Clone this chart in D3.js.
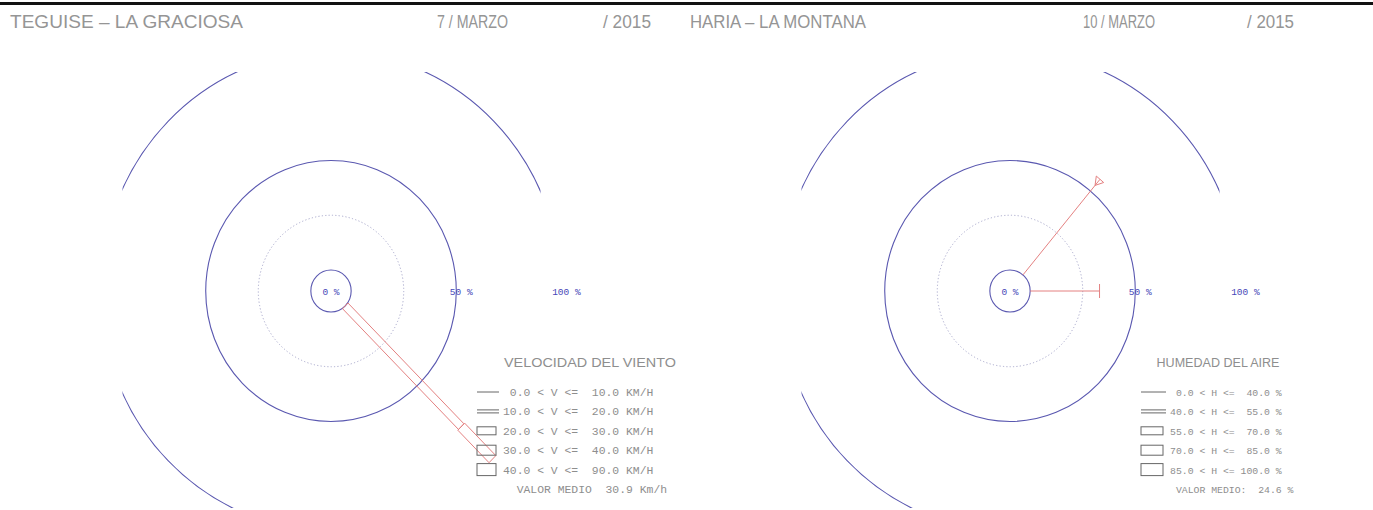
<!DOCTYPE html>
<html>
<head>
<meta charset="utf-8">
<script src="https://cdn.jsdelivr.net/npm/d3@7"></script>
<style>
  body { margin: 0; background: #fff; }
  svg { display: block; }
  text { fill: #8e8e8e; }
</style>
</head>
<body>
<div id="chart"></div>
<script>
// headers
const stations = ["TEGUISE \u2013 LA GRACIOSA", "HARIA \u2013 LA MONTANA"];
const dates = ["7 / MARZO", "10 / MARZO"];
const years = ["/ 2015", "/ 2015"];

// rings of the rose (%)
const ringPcts = [0, 25, 50, 100];
const ringLabelPcts = [0, 50, 100];

// wind speed rose
const windTitle = "VELOCIDAD DEL VIENTO";
const windLow = ["0.0", "10.0", "20.0", "30.0", "40.0"];
const windHigh = ["10.0", "20.0", "30.0", "40.0", "90.0"];
const windDirs = [135];
const windFreq = [[0, 0, 78, 21, 0]];
const windMean = "30.9";

// humidity rose
const humTitle = "HUMEDAD DEL AIRE";
const humLow = ["0.0", "40.0", "55.0", "70.0", "85.0"];
const humHigh = ["40.0", "55.0", "70.0", "85.0", "100.0"];
const humDirs = [40, 90];
const humFreq = [[57, 0, 0, 0, 0], [33, 0, 0, 0, 0]];
const humMean = "24.6";

const W = 1373, H = 510;
const blue = "#5a58b0", red = "#e27474";
const sx = 0.96;                      // drawing is a bit squeezed horizontally
const r = d3.scaleLinear().domain([0, 100]).range([21, 240]);
const classWidth = [0, 3, 8, 10, 12];
const iconHeight = [0, 3, 8, 10, 12];

const panels = [
  { cx: 331, cy: 291, head: [10, 437, 603], headW: [233, 71, 48],
    title: windTitle, low: windLow, high: windHigh, sym: "V", unit: "KM/H",
    meanLabel: "  VALOR MEDIO", mean: windMean, meanUnit: "Km/h",
    dirs: windDirs, freq: windFreq,
    legIconX: 477, legIconW: 19, legTextX: 503, legTitleX: 590, legTitleW: 172,
    legTitleY: 367, legY0: 396, legDy: 19.4, rowFont: 11.4 },
  { cx: 1010, cy: 291, head: [690, 1083, 1247], headW: [176, 72, 47],
    title: humTitle, low: humLow, high: humHigh, sym: "H", unit: "%",
    meanLabel: " VALOR MEDIO:", mean: humMean, meanUnit: "%",
    dirs: humDirs, freq: humFreq,
    legIconX: 1141, legIconW: 22, legTextX: 1170, legTitleX: 1218, legTitleW: 123,
    legTitleY: 367, legY0: 396, legDy: 19.4, rowFont: 9.8 }
];

const svg = d3.select("#chart").append("svg")
  .attr("width", W).attr("height", H);

// top frame line
svg.append("line")
  .attr("x1", 0).attr("x2", W).attr("y1", 3.5).attr("y2", 3.5)
  .attr("stroke", "#111").attr("stroke-width", 3);

const defs = svg.append("defs");

function pt(rad, deg, off) {
  const t = deg * Math.PI / 180;
  return [rad * Math.sin(t) + off * Math.cos(t), -rad * Math.cos(t) + off * Math.sin(t)];
}

panels.forEach((p, pi) => {
  // header texts
  [stations[pi], dates[pi], years[pi]].forEach((s, i) => {
    svg.append("text")
      .attr("x", p.head[i]).attr("y", 28)
      .attr("textLength", p.headW[i]).attr("lengthAdjust", "spacingAndGlyphs")
      .style("font-family", "'Liberation Sans', Arial, sans-serif")
      .style("font-size", "18px")
      .style("fill", "#959595")
      .text(s);
  });

  // clip for the outer ring (bottom-right quarter is left for the legend)
  const clip = defs.append("clipPath").attr("id", "outer" + pi);
  clip.append("rect").attr("x", -208.5).attr("y", -219).attr("width", 418).attr("height", 219);
  clip.append("rect").attr("x", -208.5).attr("y", 0).attr("width", 208.5).attr("height", 217);

  const g = svg.append("g").attr("transform", `translate(${p.cx},${p.cy})`);
  const outer = g.append("g").attr("clip-path", `url(#outer${pi})`)
    .append("g").attr("transform", `scale(${sx},1)`);
  const rose = g.append("g").attr("transform", `scale(${sx},1)`);

  ringPcts.forEach(v => {
    const target = v === 100 ? outer : rose;
    target.append("circle")
      .attr("r", r(v))
      .attr("fill", "none")
      .attr("stroke", v === 25 ? "#a9a9cc" : blue)
      .attr("stroke-width", v === 25 ? 1 : 1.1)
      .attr("stroke-dasharray", v === 25 ? "1.2,2.2" : null)
      .attr("vector-effect", "non-scaling-stroke");
  });

  // bars: stacked classes along each direction
  const bars = g.append("g").attr("transform", `scale(${sx},1)`)
    .attr("fill", "none").attr("stroke", red).attr("stroke-width", 1)
    .attr("opacity", 0.9);
  const maxF = d3.max(p.freq, f => d3.sum(f));
  p.dirs.forEach((dir, di) => {
    let acc = 0, lastK = 0;
    p.freq[di].forEach((f, k) => {
      if (!f) return;
      const a = r(acc), b = r(acc + f);
      acc += f; lastK = k;
      const w = classWidth[k] / 2;
      if (k === 0) {
        bars.append("path").attr("d", d3.line()([pt(a, dir, 0), pt(b, dir, 0)]))
          .attr("vector-effect", "non-scaling-stroke");
      } else if (k === 1) {
        [-w, w].forEach(o => bars.append("path")
          .attr("d", d3.line()([pt(a, dir, o), pt(b, dir, o)]))
          .attr("vector-effect", "non-scaling-stroke"));
      } else {
        bars.append("path")
          .attr("d", d3.line()([pt(a, dir, -w), pt(b, dir, -w), pt(b, dir, w), pt(a, dir, w)]) + "Z")
          .attr("vector-effect", "non-scaling-stroke");
      }
    });
    if (lastK === 0) {
      const end = r(acc);
      const cap = d3.sum(p.freq[di]) === maxF
        ? [pt(end - 8, dir, 0), pt(end, dir, -5), pt(end, dir, 5), pt(end - 8, dir, 0)]
        : [pt(end, dir, -7), pt(end, dir, 7)];
      bars.append("path").attr("d", d3.line()(cap))
        .attr("vector-effect", "non-scaling-stroke");
    }
  });

  // ring labels
  ringLabelPcts.forEach(v => {
    g.append("text")
      .attr("x", v === 0 ? 0 : r(v) * sx + 5).attr("y", 3.5)
      .attr("text-anchor", "middle")
      .style("font-family", "'Liberation Mono', monospace")
      .style("font-size", "9.5px")
      .style("fill", "#4848b8")
      .text(v + " %");
  });

  // legend
  const leg = svg.append("g");
  leg.append("text")
    .attr("x", p.legTitleX).attr("y", p.legTitleY)
    .attr("text-anchor", "middle")
    .attr("textLength", p.legTitleW).attr("lengthAdjust", "spacingAndGlyphs")
    .style("font-family", "'Liberation Sans', Arial, sans-serif")
    .style("font-size", "12.5px")
    .text(p.title);

  const rows = p.low.map((lo, i) =>
    lo.padStart(4) + " < " + p.sym + " <= " + p.high[i].padStart(5) + " " + p.unit);
  rows.push(p.meanLabel + p.mean.padStart(6) + " " + p.meanUnit);

  rows.forEach((s, i) => {
    const y = p.legY0 + i * p.legDy;
    leg.append("text")
      .attr("x", p.legTextX).attr("y", y)
      .attr("xml:space", "preserve")
      .style("white-space", "pre")
      .style("font-family", "'Liberation Mono', monospace")
      .style("font-size", p.rowFont + "px")
      .text(s);
    if (i >= p.low.length) return;
    const iy = y - 4;
    const ic = leg.append("g").attr("fill", "none").attr("stroke", "#666").attr("stroke-width", 1);
    if (i === 0) {
      ic.append("line").attr("x1", p.legIconX).attr("x2", p.legIconX + p.legIconW + 3)
        .attr("y1", iy).attr("y2", iy);
    } else if (i === 1) {
      [-1.5, 1.5].forEach(o => ic.append("line")
        .attr("x1", p.legIconX).attr("x2", p.legIconX + p.legIconW + 3)
        .attr("y1", iy + o).attr("y2", iy + o));
    } else {
      ic.append("rect").attr("x", p.legIconX).attr("y", iy - iconHeight[i] / 2)
        .attr("width", p.legIconW).attr("height", iconHeight[i]);
    }
  });
});
</script>
</body>
</html>
